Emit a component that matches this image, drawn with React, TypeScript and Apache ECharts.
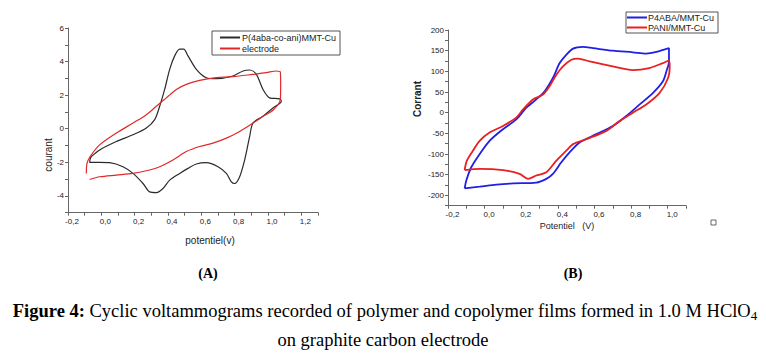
import React, { useEffect, useRef } from "react";
import * as echarts from "echarts";

// ---- Chart A data: [potentiel (V), courant] ----
const copolymerA: number[][] = [
  [-0.06, -1.66], [-0.01, -1.26], [0.09, -0.76], [0.19, -0.36], [0.27, 0.04], [0.32, 0.54],
  [0.35, 1.34], [0.38, 2.34], [0.41, 3.54], [0.44, 4.34], [0.47, 4.74], [0.494, 4.74],
  [0.52, 4.34], [0.57, 3.54], [0.63, 3.04], [0.69, 2.98], [0.79, 3.14], [0.85, 3.44],
  [0.89, 3.5], [0.93, 3.24], [0.97, 2.34], [1.01, 1.84], [1.07, 1.78], [1.08, 1.64],
  [1.03, 1.24], [0.97, 0.74], [0.91, 0.34], [0.89, -0.46], [0.86, -1.86], [0.83, -2.86],
  [0.8, -3.26], [0.78, -3.16], [0.75, -2.66], [0.7, -2.26], [0.63, -2.02], [0.57, -2.1],
  [0.52, -2.36], [0.47, -2.66], [0.41, -3.06], [0.37, -3.56], [0.33, -3.8], [0.29, -3.76],
  [0.25, -3.26], [0.19, -2.66], [0.13, -2.26], [0.05, -2.02], [-0.01, -2.0], [-0.07, -2.0],
  [-0.066, -1.76], [-0.06, -1.66],
];
const electrodeA: number[][] = [
  [-0.09, -2.66], [-0.086, -2.06], [-0.06, -1.56], [-0.01, -0.96], [0.09, -0.26], [0.19, 0.34],
  [0.27, 0.84], [0.33, 1.34], [0.39, 1.84], [0.45, 2.34], [0.51, 2.64], [0.59, 2.88],
  [0.69, 3.04], [0.79, 3.1], [0.91, 3.24], [0.99, 3.34], [1.05, 3.44], [1.074, 3.38],
  [1.076, 2.54], [1.074, 1.74], [1.03, 1.1], [0.97, 0.74], [0.91, 0.34], [0.83, -0.16],
  [0.75, -0.56], [0.67, -0.86], [0.59, -1.06], [0.51, -1.36], [0.43, -1.86], [0.35, -2.26],
  [0.27, -2.5], [0.19, -2.66], [0.09, -2.76], [-0.01, -2.86], [-0.07, -3.02],
];

// ---- Chart B data: [Potentiel (V), Corrant] ----
const p4abaB: number[][] = [
  [-0.109, -183], [-0.1, -164], [-0.073, -132], [-0.027, -100], [0.027, -68], [0.1, -40],
  [0.173, -16], [0.228, 12], [0.282, 32], [0.328, 52], [0.373, 84], [0.41, 120],
  [0.446, 140], [0.483, 155], [0.537, 159], [0.592, 156], [0.7, 150], [0.81, 146],
  [0.883, 143], [0.938, 147], [1.007, 156], [1.007, 124], [0.993, 100], [0.974, 76],
  [0.92, 48], [0.847, 20], [0.774, -8], [0.7, -32], [0.61, -52], [0.519, -72],
  [0.464, -96], [0.419, -120], [0.373, -148], [0.337, -160], [0.282, -169], [0.155, -171],
  [0.064, -174], [-0.027, -179], [-0.109, -183],
];
const paniB: number[][] = [
  [-0.109, -139], [-0.097, -116], [-0.064, -92], [-0.027, -68], [0.027, -48], [0.1, -32],
  [0.173, -12], [0.21, 8], [0.264, 32], [0.319, 44], [0.355, 64], [0.392, 92],
  [0.428, 112], [0.474, 128], [0.51, 131], [0.574, 124], [0.7, 112], [0.81, 103],
  [0.9, 108], [0.974, 120], [1.007, 126], [1.011, 112], [1.002, 84], [0.956, 48],
  [0.883, 20], [0.81, 0], [0.738, -20], [0.665, -44], [0.556, -64], [0.483, -76],
  [0.446, -92], [0.392, -116], [0.337, -144], [0.282, -152], [0.237, -160], [0.191, -148],
  [0.1, -139], [-0.027, -136], [-0.109, -139],
];

const seriesNamesA = ["P(4aba-co-ani)MMT-Cu", "electrode"];
const seriesNamesB = ["P4ABA/MMT-Cu", "PANI/MMT-Cu"];
const captionA = "(A)";
const captionB = "(B)";
const figureTitle = "Figure 4:";
const figureText = " Cyclic voltammograms recorded of polymer and copolymer films formed in 1.0 M HClO";
const figureLine2 = "on graphite carbon electrode";

const SANS = "Liberation Sans, Arial, sans-serif";
const SERIF = "Liberation Serif, Times New Roman, serif";

const fmtX = (v: number) => {
  const t = Math.round(v * 10);
  if (t % 2 !== 0) return "";
  return (t / 10).toFixed(1).replace(".", ",");
};

const axisCommon = {
  axisLine: { onZero: false, lineStyle: { color: "#666", width: 1 } },
  axisTick: { show: true, length: 3, lineStyle: { color: "#666" } },
  splitLine: { show: false },
};

export default function App() {
  const ref = useRef<HTMLDivElement>(null);
  useEffect(() => {
    if (!ref.current) return;
    const chart = echarts.init(ref.current, undefined, { renderer: "svg" });
    chart.setOption({
      animation: false,
      backgroundColor: "#fff",
      grid: [
        { left: 68, top: 28, width: 250, height: 184.7, containLabel: false },
        { left: 448, top: 30, width: 238, height: 175.7, containLabel: false },
      ],
      xAxis: [
        {
          gridIndex: 0, type: "value", min: -0.2, max: 1.3, interval: 0.1,
          ...axisCommon,
          axisLabel: { formatter: fmtX, fontSize: 8, color: "#222", fontFamily: SANS, margin: 5, padding: [0, 0, 0, 8], showMaxLabel: true },
        },
        {
          gridIndex: 1, type: "value", min: -0.2, max: 1.1, interval: 0.1,
          ...axisCommon,
          axisLabel: { formatter: fmtX, fontSize: 8, color: "#222", fontFamily: SANS, margin: 5, padding: [0, 0, 0, 9] },
        },
      ],
      yAxis: [
        {
          gridIndex: 0, type: "value", min: -5, max: 6, interval: 1,
          ...axisCommon,
          axisLabel: {
            formatter: (v: number) => (Math.round(v) % 2 === 0 ? String(Math.round(v)) : ""),
            fontSize: 8, color: "#222", fontFamily: SANS, margin: 4,
          },
        },
        {
          gridIndex: 1, type: "value", min: -225, max: 200, interval: 25,
          ...axisCommon,
          axisLabel: {
            formatter: (v: number) => (Math.round(v) % 50 === 0 ? String(Math.round(v)) : ""),
            fontSize: 8, color: "#222", fontFamily: SANS, margin: 4,
          },
        },
      ],
      legend: [
        {
          data: seriesNamesA, orient: "vertical", left: 212, top: 31, width: 121,
          borderColor: "#555", borderWidth: 1, padding: [2, 4, 2, 8],
          itemWidth: 20, itemHeight: 2, itemGap: 2, icon: "rect",
          textStyle: { fontSize: 9, color: "#222", fontFamily: SANS, padding: [0, 0, 0, -3] },
        },
        {
          data: seriesNamesB, orient: "vertical", left: 626, top: 12, width: 86,
          borderColor: "#555", borderWidth: 1, padding: [1, 4, 1, 1],
          itemWidth: 20, itemHeight: 2, itemGap: 1, icon: "rect",
          textStyle: { fontSize: 9, color: "#222", fontFamily: SANS, padding: [0, 0, 0, -4] },
        },
      ],
      series: [
        {
          name: seriesNamesA[0], type: "line", xAxisIndex: 0, yAxisIndex: 0, data: copolymerA,
          showSymbol: false, symbol: "none", smooth: 0.3, color: "#2a2a2a", lineStyle: { width: 1.2, color: "#2a2a2a" },
        },
        {
          name: seriesNamesA[1], type: "line", xAxisIndex: 0, yAxisIndex: 0, data: electrodeA,
          showSymbol: false, symbol: "none", smooth: 0.3, color: "#e02828", lineStyle: { width: 1.2, color: "#e02828" },
        },
        {
          name: seriesNamesB[0], type: "line", xAxisIndex: 1, yAxisIndex: 1, data: p4abaB,
          showSymbol: false, symbol: "none", smooth: 0.3, color: "#1f1fe6", lineStyle: { width: 1.8, color: "#1f1fe6" },
        },
        {
          name: seriesNamesB[1], type: "line", xAxisIndex: 1, yAxisIndex: 1, data: paniB,
          showSymbol: false, symbol: "none", smooth: 0.3, color: "#e82020", lineStyle: { width: 1.8, color: "#e82020" },
        },
      ],
      graphic: [
        { type: "text", x: 48, y: 155, rotation: Math.PI / 2, style: { text: "courant", fill: "#222", font: `10px ${SANS}`, align: "center", verticalAlign: "middle" } },
        { type: "text", x: 210, y: 240, style: { text: "potentiel(v)", fill: "#222", font: `10px ${SANS}`, align: "center", verticalAlign: "middle" } },
        { type: "text", x: 417, y: 99, rotation: Math.PI / 2, style: { text: "Corrant", fill: "#222", font: `bold 10px ${SANS}`, align: "center", verticalAlign: "middle" } },
        { type: "text", x: 567, y: 226, style: { text: "Potentiel   (V)", fill: "#223", font: `9px ${SANS}`, align: "center", verticalAlign: "middle" } },
        { type: "rect", shape: { x: 711, y: 220, width: 5, height: 5 }, style: { fill: "#fff", stroke: "#666", lineWidth: 1 } },
        { type: "text", x: 208, y: 273, style: { text: captionA, fill: "#000", font: `bold 14px ${SERIF}`, align: "center", verticalAlign: "middle" } },
        { type: "text", x: 573, y: 273, style: { text: captionB, fill: "#000", font: `bold 14px ${SERIF}`, align: "center", verticalAlign: "middle" } },
        {
          type: "text", x: 385, y: 311,
          style: {
            text: `{b|${figureTitle}}{n|${figureText}}{s|4}`,
            align: "center", verticalAlign: "middle", fill: "#000",
            rich: {
              b: { font: `bold 18.5px ${SERIF}`, fill: "#000", lineHeight: 22, verticalAlign: "middle" },
              n: { font: `18.5px ${SERIF}`, fill: "#000", lineHeight: 22, verticalAlign: "middle" },
              s: { font: `13px ${SERIF}`, fill: "#000", lineHeight: 13, verticalAlign: "bottom" },
            },
          },
        },
        { type: "text", x: 383, y: 340, style: { text: figureLine2, fill: "#000", font: `18.5px ${SERIF}`, align: "center", verticalAlign: "middle" } },
      ],
    });
    return () => chart.dispose();
  }, []);
  return (
    <div
      ref={ref}
      style={{ position: "absolute", left: 0, top: 0, width: 766, height: 357, background: "#fff" }}
    />
  );
}
